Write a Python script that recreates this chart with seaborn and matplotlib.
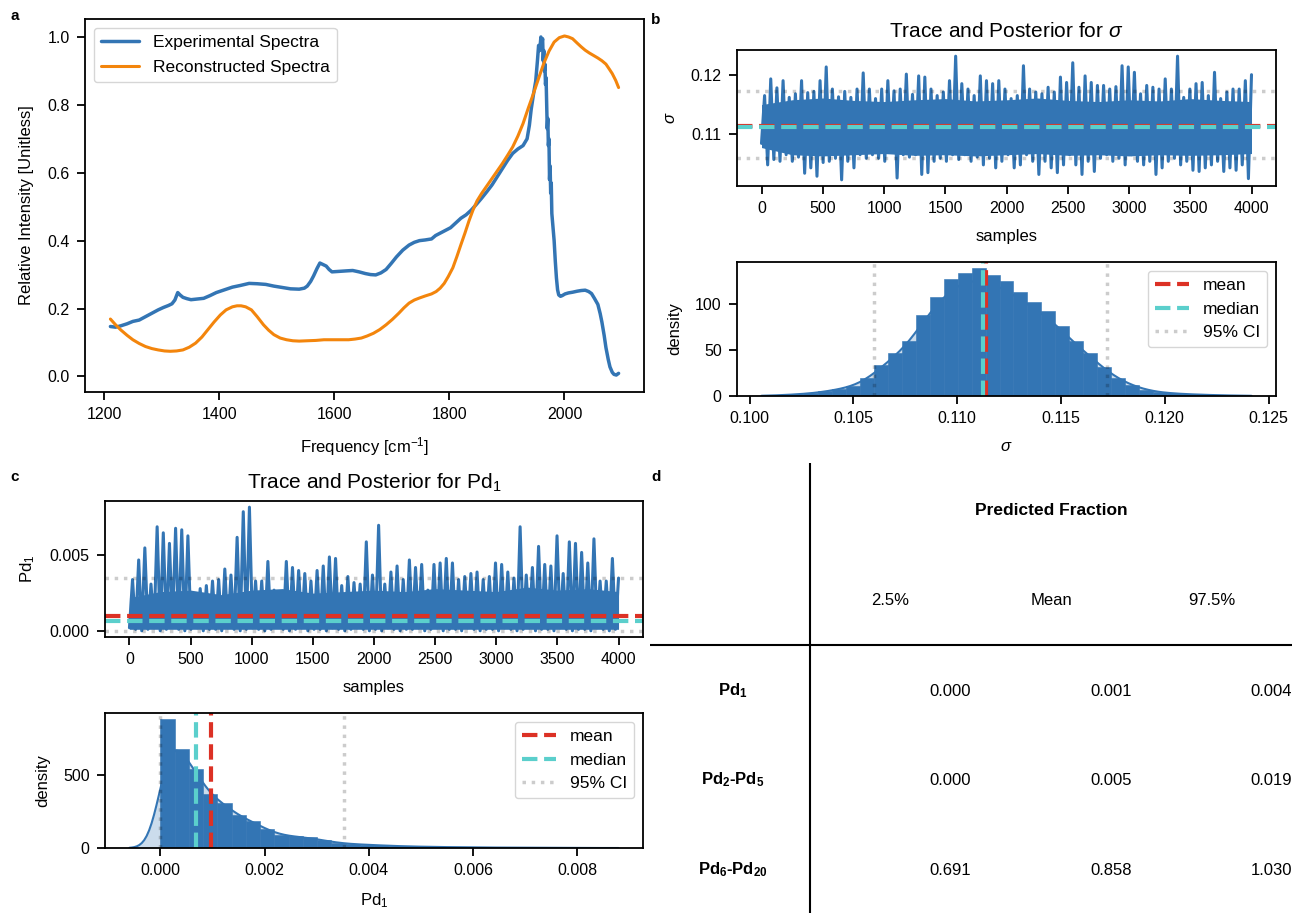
import numpy as np
import pandas as pd
import matplotlib
matplotlib.use("Agg")
import matplotlib.pyplot as plt
import seaborn as sns

# ---- panel a: spectra ----
exp_freq = [1211, 1220, 1229, 1240, 1250, 1261, 1272, 1283, 1294, 1303, 1312, 1318, 1323, 1328, 1332,
            1337, 1344, 1351, 1362, 1373, 1384, 1395, 1409, 1423, 1437, 1452, 1466, 1481, 1495, 1510,
            1524, 1539, 1548, 1553, 1559, 1564, 1570, 1575, 1580, 1586, 1591, 1596, 1604, 1611, 1622,
            1632, 1643, 1654, 1663, 1672, 1681, 1690, 1699, 1708, 1719, 1730, 1739, 1748, 1758, 1769,
            1776, 1784, 1793, 1802, 1811, 1820, 1829, 1838, 1847, 1856, 1865, 1874, 1883, 1892, 1901,
            1910, 1919, 1928, 1935, 1939, 1942, 1946, 1950, 1953, 1955, 1957, 1959, 1961, 1962, 1963,
            1964, 1965, 1966, 1967, 1968, 1969, 1970, 1971, 1972, 1973, 1974, 1975, 1976, 1977, 1978,
            1980, 1982, 1984, 1986, 1988, 1990, 1993, 1996, 2001, 2007, 2014, 2022, 2029, 2036, 2042,
            2047, 2052, 2058, 2062, 2065, 2069, 2072, 2076, 2079, 2083, 2086, 2090, 2094]
exp_int = [0.147, 0.145, 0.149, 0.155, 0.162, 0.166, 0.176, 0.186, 0.196, 0.203, 0.209, 0.214, 0.225, 0.247, 0.240,
           0.233, 0.229, 0.226, 0.228, 0.230, 0.238, 0.247, 0.255, 0.263, 0.268, 0.274, 0.273, 0.271, 0.266, 0.262,
           0.258, 0.257, 0.260, 0.266, 0.280, 0.296, 0.318, 0.334, 0.330, 0.325, 0.315, 0.308, 0.309, 0.310, 0.311,
           0.312, 0.308, 0.303, 0.300, 0.299, 0.305, 0.315, 0.333, 0.352, 0.372, 0.387, 0.395, 0.400, 0.402, 0.405,
           0.415, 0.422, 0.430, 0.438, 0.452, 0.466, 0.476, 0.490, 0.507, 0.525, 0.544, 0.564, 0.588, 0.612, 0.636,
           0.657, 0.670, 0.680, 0.700, 0.740, 0.785, 0.830, 0.870, 0.930, 0.975, 0.960, 1.000, 0.985, 0.995, 0.930,
           0.960, 0.900, 0.920, 0.860, 0.880, 0.800, 0.730, 0.760, 0.680, 0.700, 0.580, 0.620, 0.540, 0.570, 0.480,
           0.440, 0.400, 0.340, 0.290, 0.255, 0.240, 0.236, 0.238, 0.243, 0.246, 0.248, 0.251, 0.253, 0.254, 0.250,
           0.244, 0.230, 0.212, 0.185, 0.160, 0.120, 0.085, 0.050, 0.028, 0.012, 0.006, 0.004, 0.009]
rec_freq = [1211, 1220, 1229, 1240, 1250, 1261, 1272, 1283, 1294, 1305, 1315, 1326, 1337, 1348, 1359,
            1370, 1380, 1391, 1402, 1412, 1423, 1431, 1438, 1446, 1456, 1466, 1477, 1486, 1495, 1506,
            1517, 1528, 1539, 1553, 1568, 1582, 1596, 1611, 1625, 1636, 1647, 1657, 1668, 1679, 1690,
            1701, 1712, 1721, 1730, 1739, 1748, 1758, 1769, 1777, 1784, 1791, 1798, 1806, 1813, 1820,
            1827, 1834, 1841, 1848, 1856, 1865, 1874, 1883, 1892, 1901, 1910, 1919, 1928, 1937, 1946,
            1955, 1964, 1973, 1982, 1991, 2000, 2007, 2014, 2022, 2029, 2036, 2043, 2050, 2058, 2065,
            2072, 2078, 2083, 2089, 2094]
rec_int = [0.169, 0.152, 0.137, 0.121, 0.108, 0.097, 0.088, 0.082, 0.078, 0.075, 0.074, 0.075, 0.078, 0.086, 0.098,
           0.116, 0.137, 0.160, 0.181, 0.196, 0.205, 0.208, 0.208, 0.205, 0.196, 0.176, 0.152, 0.136, 0.123, 0.113,
           0.108, 0.105, 0.104, 0.105, 0.106, 0.108, 0.108, 0.108, 0.108, 0.110, 0.113, 0.119, 0.127, 0.138, 0.152,
           0.168, 0.186, 0.202, 0.216, 0.225, 0.231, 0.237, 0.243, 0.250, 0.260, 0.274, 0.294, 0.320, 0.353, 0.388,
           0.422, 0.458, 0.490, 0.517, 0.539, 0.561, 0.583, 0.605, 0.627, 0.651, 0.676, 0.708, 0.745, 0.790, 0.833,
           0.878, 0.922, 0.958, 0.985, 0.998, 1.003, 1.000, 0.995, 0.982, 0.971, 0.961, 0.953, 0.946, 0.938, 0.930,
           0.920, 0.905, 0.892, 0.872, 0.851]

# ---- MCMC traces: local highs / lows in sample order, plus the dense core band ----
n_samples = 4000
sigma_peaks = [0.1165, 0.1193, 0.1178, 0.1190, 0.1162, 0.1168, 0.1190, 0.1170, 0.1172, 0.1190,
               0.1213, 0.1176, 0.1163, 0.1172, 0.1162, 0.1176, 0.1203, 0.1176, 0.1160, 0.1176,
               0.1190, 0.1173, 0.1176, 0.1201, 0.1167, 0.1198, 0.1196, 0.1176, 0.1165, 0.1171,
               0.1190, 0.1231, 0.1185, 0.1176, 0.1165, 0.1198, 0.1190, 0.1185, 0.1190, 0.1176,
               0.1160, 0.1165, 0.1215, 0.1176, 0.1171, 0.1168, 0.1179, 0.1171, 0.1196, 0.1187,
               0.1220, 0.1179, 0.1198, 0.1187, 0.1182, 0.1182, 0.1176, 0.1180, 0.1215, 0.1213,
               0.1204, 0.1168, 0.1182, 0.1179, 0.1176, 0.1193, 0.1176, 0.1231, 0.1162, 0.1176,
               0.1185, 0.1187, 0.1165, 0.1204, 0.1160, 0.1171, 0.1176, 0.1176, 0.1190, 0.1200]
sigma_troughs = [0.1085, 0.1049, 0.1058, 0.1055, 0.1066, 0.1055, 0.1062, 0.1035, 0.1044, 0.1030,
                 0.1053, 0.1055, 0.1060, 0.1024, 0.1055, 0.1044, 0.1066, 0.1060, 0.1066, 0.1060,
                 0.1055, 0.1071, 0.1027, 0.1066, 0.1062, 0.1066, 0.1033, 0.1036, 0.1055, 0.1060,
                 0.1055, 0.1066, 0.1058, 0.1066, 0.1055, 0.1062, 0.1049, 0.1060, 0.1044, 0.1055,
                 0.1066, 0.1044, 0.1049, 0.1066, 0.1055, 0.1033, 0.1055, 0.1044, 0.1036, 0.1049,
                 0.1066, 0.1049, 0.1033, 0.1055, 0.1038, 0.1060, 0.1066, 0.1055, 0.1060, 0.1049,
                 0.1066, 0.1055, 0.1049, 0.1055, 0.1033, 0.1044, 0.1055, 0.1060, 0.1049, 0.1055,
                 0.1040, 0.1038, 0.1044, 0.1049, 0.1055, 0.1038, 0.1044, 0.1040, 0.1049, 0.1026]
sigma_core_hi = [0.1150, 0.1158, 0.1161, 0.1157, 0.1155, 0.1158, 0.1160, 0.1156, 0.1158,
                 0.1161, 0.1157, 0.1155, 0.1158, 0.1156, 0.1160, 0.1157, 0.1155]
sigma_core_lo = [0.1078, 0.1066, 0.1064, 0.1066, 0.1068, 0.1065, 0.1066, 0.1064, 0.1066,
                 0.1068, 0.1065, 0.1066, 0.1064, 0.1066, 0.1065, 0.1066, 0.1068]
pd1_peaks = [0.0034, 0.0047, 0.0055, 0.0031, 0.0069, 0.0065, 0.0058, 0.0068, 0.0067, 0.0063,
             0.0019, 0.0028, 0.0030, 0.0033, 0.0034, 0.0041, 0.0037, 0.0062, 0.0079, 0.0082,
             0.0033, 0.0033, 0.0046, 0.0027, 0.0020, 0.0046, 0.0042, 0.0040, 0.0038, 0.0033,
             0.0040, 0.0043, 0.0049, 0.0048, 0.0030, 0.0036, 0.0032, 0.0031, 0.0059, 0.0037,
             0.0070, 0.0031, 0.0039, 0.0043, 0.0034, 0.0047, 0.0042, 0.0044, 0.0027, 0.0044,
             0.0045, 0.0048, 0.0045, 0.0034, 0.0036, 0.0038, 0.0039, 0.0034, 0.0036, 0.0045,
             0.0044, 0.0039, 0.0035, 0.0069, 0.0037, 0.0042, 0.0056, 0.0044, 0.0043, 0.0063,
             0.0038, 0.0059, 0.0058, 0.0052, 0.0045, 0.0061, 0.0033, 0.0033, 0.0048, 0.0035]
pd1_troughs = [0.0002, 0.0001, 0.0000, 0.0001, 0.0002, 0.0000, 0.0001, 0.0003, 0.0001, 0.0000,
               0.0001, 0.0002, 0.0000, 0.0001, 0.0001, 0.0000, 0.0002, 0.0001, 0.0000, 0.0001,
               0.0002, 0.0001, 0.0000, 0.0001, 0.0003, 0.0001, 0.0000, 0.0001, 0.0002, 0.0000,
               0.0001, 0.0001, 0.0000, 0.0002, 0.0001, 0.0000, 0.0001, 0.0002, 0.0001, 0.0000,
               0.0001, 0.0000, 0.0002, 0.0001, 0.0000, 0.0001, 0.0001, 0.0002, 0.0000, 0.0001,
               0.0002, 0.0000, 0.0001, 0.0001, 0.0000, 0.0002, 0.0001, 0.0000, 0.0001, 0.0001,
               0.0000, 0.0002, 0.0001, 0.0000, 0.0001, 0.0002, 0.0000, 0.0001, 0.0001, 0.0000,
               0.0002, 0.0001, 0.0000, 0.0001, 0.0001, 0.0000, 0.0002, 0.0001, 0.0000, 0.0001]
pd1_core_hi = [0.0022, 0.0026, 0.0027, 0.0024, 0.0027, 0.0028, 0.0025, 0.0026, 0.0027,
               0.0026, 0.0028, 0.0027, 0.0026, 0.0029, 0.0027, 0.0028, 0.0026]
pd1_core_lo = [0.0001] * 17

# ---- posterior histograms (density per bin) ----
sigma_range = (0.10063, 0.12412)
sigma_density = [0.5, 1, 2, 3, 5, 8, 11, 19, 33, 47, 60, 88, 107, 126, 133, 138, 131, 124, 112, 102,
                 92, 76, 59, 47, 31, 20, 12, 7, 4, 3, 2, 1.5, 1, 0.5, 0.5]
pd1_range = (0.0, 0.0082)
pd1_density = [881, 681, 538, 368, 309, 225, 186, 127, 91, 79, 73, 52, 36, 27, 23, 18, 14, 11, 9, 7,
               6, 5, 4, 3, 3, 2, 2, 2, 1, 1]

sigma_mean, sigma_median, sigma_ci = 0.11140, 0.11125, (0.1060, 0.1172)
pd1_mean, pd1_median, pd1_ci = 0.00098, 0.00068, (0.0, 0.00352)

# ---- panel d table ----
row_labels = ['Pd$_\\mathbf{1}$', 'Pd$_\\mathbf{2}$-Pd$_\\mathbf{5}$', 'Pd$_\\mathbf{6}$-Pd$_\\mathbf{20}$']
col_labels = ['2.5%', 'Mean', '97.5%']
q_low = [0.000, 0.000, 0.691]
q_mean = [0.001, 0.005, 0.858]
q_high = [0.004, 0.019, 1.030]

BLUE = '#3375b4'
ORANGE = '#f3850c'
RED = '#dc3125'
CYAN = '#5bcfcc'

sns.set_style('ticks')
plt.rcParams['font.family'] = ['Liberation Sans', 'DejaVu Sans']
plt.rcParams['mathtext.fontset'] = 'custom'
plt.rcParams['mathtext.rm'] = 'Liberation Sans'
plt.rcParams['mathtext.it'] = 'Liberation Sans:italic'
plt.rcParams['mathtext.bf'] = 'Liberation Sans:bold'
plt.rcParams.update({
    'font.size': 12,
    'text.color': 'black',
    'axes.labelcolor': 'black',
    'axes.edgecolor': 'black',
    'xtick.color': 'black',
    'ytick.color': 'black',
    'axes.linewidth': 1.3,
    'axes.labelpad': 9.5,
    'xtick.major.width': 1.3,
    'ytick.major.width': 1.3,
    'xtick.major.size': 6,
    'ytick.major.size': 6,
    'xtick.major.pad': 5,
    'ytick.major.pad': 5,
    'xtick.labelsize': 11.5,
    'ytick.labelsize': 11.5,
    'axes.labelsize': 12,
})

W, H = 1292, 913
fig = plt.figure(figsize=(W / 100, H / 100), dpi=100)


def px_axes(left, top, right, bottom):
    return fig.add_axes([left / W, 1 - bottom / H, (right - left) / W, (bottom - top) / H])


def trace_panel(ax, peaks, troughs, core_lo, core_hi, mean, median, ci, ylabel, yticks):
    core_x = np.linspace(0, n_samples, len(core_hi))
    ax.fill_between(core_x, core_lo, core_hi, color=BLUE, lw=0)
    vals = np.column_stack([troughs, peaks]).ravel()
    steps = np.linspace(0, n_samples, len(vals))
    sns.lineplot(x=steps, y=vals, ax=ax, color=BLUE, lw=2.2)
    ax.axhline(mean, color=RED, ls='--', lw=3)
    ax.axhline(median, color=CYAN, ls='--', lw=3)
    for c in ci:
        ax.axhline(c, color='black', alpha=0.2, ls=':', lw=2.5)
    ax.set_xticks(range(0, 4001, 500))
    ax.set_yticks(yticks)
    ax.set_xlabel('samples')
    ax.set_ylabel(ylabel)


def hist_panel(ax, rng, dens, cut, mean, median, ci, xlabel, xticks, yticks):
    edges = np.linspace(rng[0], rng[1], len(dens) + 1)
    df = pd.DataFrame({'value': (edges[:-1] + edges[1:]) / 2, 'dens': dens})
    sns.kdeplot(data=df, x='value', weights='dens', bw_method=0.19, cut=cut, fill=True,
                color=BLUE, alpha=0.25, lw=0, ax=ax)
    sns.kdeplot(data=df, x='value', weights='dens', bw_method=0.19, cut=cut,
                color=BLUE, lw=1.5, ax=ax)
    sns.histplot(data=df, x='value', weights='dens', bins=list(edges), stat='count', color=BLUE,
                 alpha=1, edgecolor=BLUE, linewidth=0.4, ax=ax)
    ax.axvline(mean, color=RED, ls='--', lw=3, label='mean')
    ax.axvline(median, color=CYAN, ls='--', lw=3, label='median')
    ax.axvline(ci[0], color='black', alpha=0.2, ls=':', lw=2.5, label='95% CI')
    ax.axvline(ci[1], color='black', alpha=0.2, ls=':', lw=2.5)
    ax.set_xticks(xticks)
    ax.set_yticks(yticks)
    ax.set_xlabel(xlabel)
    ax.set_ylabel('density')
    ax.legend(loc='upper right', fontsize=12.5)


# panel a
ax_a = px_axes(85, 19, 644, 392)
sns.lineplot(x=exp_freq, y=exp_int, ax=ax_a, color=BLUE, lw=2.5, label='Experimental Spectra')
sns.lineplot(x=rec_freq, y=rec_int, ax=ax_a, color=ORANGE, lw=2.2, label='Reconstructed Spectra')
ax_a.set_xticks(range(1200, 2001, 200))
ax_a.set_yticks(np.arange(0, 1.01, 0.2))
ax_a.set_xlabel('Frequency [cm$^{-1}$]')
ax_a.set_ylabel('Relative Intensity [Unitless]')
ax_a.legend(loc='upper left', fontsize=12.5, handlelength=2.2, labelspacing=0.6)

# panel b
ax_b1 = px_axes(737, 50, 1276, 186)
trace_panel(ax_b1, sigma_peaks, sigma_troughs, sigma_core_lo, sigma_core_hi,
            sigma_mean, sigma_median, sigma_ci, '$\\sigma$', [0.11, 0.12])
ax_b1.set_title('Trace and Posterior for $\\sigma$', fontsize=15, pad=9)
ax_b2 = px_axes(737, 262, 1276, 396)
hist_panel(ax_b2, sigma_range, sigma_density, 0.3, sigma_mean, sigma_median, sigma_ci,
           '$\\sigma$', np.arange(0.100, 0.1251, 0.005), [0, 50, 100])

# panel c
ax_c1 = px_axes(105, 501, 643, 637)
trace_panel(ax_c1, pd1_peaks, pd1_troughs, pd1_core_lo, pd1_core_hi,
            pd1_mean, pd1_median, pd1_ci, 'Pd$_1$', [0.0, 0.005])
ax_c1.set_title('Trace and Posterior for Pd$_1$', fontsize=15, pad=9)
ax_c2 = px_axes(105, 713, 643, 848)
hist_panel(ax_c2, pd1_range, pd1_density, 1.6, pd1_mean, pd1_median, pd1_ci,
           'Pd$_1$', np.arange(0, 0.0081, 0.002), [0, 500])

# panel d: table
ax_d = px_axes(650, 463, 1292, 913)
ax_d.set_xlim(650, 1292)
ax_d.set_ylim(913, 463)
ax_d.axis('off')
ax_d.plot([810, 810], [463, 913], color='black', lw=1.5)
ax_d.plot([650, 1292], [645, 645], color='black', lw=1.5)
ax_d.text(1051, 510, 'Predicted Fraction', ha='center', va='center', fontsize=12.5, fontweight='bold')
for x, lab in zip([890, 1051, 1212], col_labels):
    ax_d.text(x, 600, lab, ha='center', va='center', fontsize=12)
for y, lab, lo, mu, hi in zip([691, 780, 870], row_labels, q_low, q_mean, q_high):
    ax_d.text(733, y, lab, ha='center', va='center', fontsize=12, fontweight='bold')
    for x, v in zip([971, 1132, 1292], [lo, mu, hi]):
        ax_d.text(x, y, f'{v:.3f}', ha='right', va='center', fontsize=12)

# panel letters
for (x, y), lab in zip([(15, 16), (656, 20), (15, 477), (656, 477)], 'abcd'):
    fig.text(x / W, 1 - y / H, lab, fontsize=11, fontweight='bold', ha='center', va='center')

fig.savefig('out.png', dpi=100)
